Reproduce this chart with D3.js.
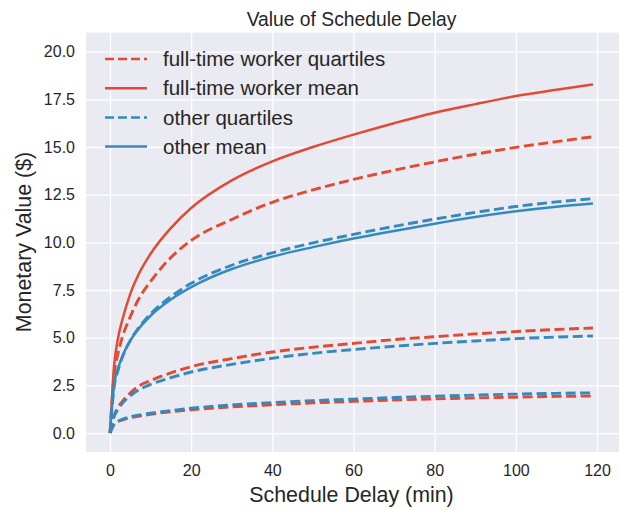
<!DOCTYPE html>
<html>
<head>
<meta charset="utf-8">
<script src="https://cdn.jsdelivr.net/npm/d3@7"></script>
<style>
  body { margin: 0; background: #fff; }
  svg text { font-family: "Liberation Sans", Arial, sans-serif; fill: #262626; }
</style>
</head>
<body>
<svg width="619" height="510"></svg>
<script>
// Schedule delay in minutes (x values shared by every curve)
const delays = [0, 1, 2, 3, 5, 7, 10, 15, 20, 30, 40, 50, 60, 70, 80, 90, 100, 110, 119];

// full-time workers
const ftMean = [0, 3.5, 5.0, 5.9, 7.3, 8.3, 9.4, 10.75, 11.8, 13.25, 14.25, 15.0, 15.65, 16.25, 16.8, 17.25, 17.67, 18.0, 18.28];
const ftQ1 = [0, 0.45, 0.6, 0.68, 0.8, 0.88, 0.98, 1.12, 1.22, 1.37, 1.48, 1.58, 1.66, 1.73, 1.79, 1.84, 1.88, 1.92, 1.94];
const ftQ2 = [0, 0.9, 1.35, 1.65, 2.1, 2.45, 2.75, 3.15, 3.48, 3.9, 4.25, 4.5, 4.7, 4.9, 5.05, 5.2, 5.32, 5.43, 5.51];
const ftQ3 = [0, 3.0, 4.2, 5.0, 6.1, 7.0, 7.95, 9.2, 10.1, 11.2, 12.1, 12.75, 13.3, 13.78, 14.22, 14.62, 14.98, 15.28, 15.54];

// other workers
const oMean = [0, 2.5, 3.4, 4.0, 4.85, 5.45, 6.15, 7.0, 7.65, 8.6, 9.25, 9.75, 10.2, 10.6, 10.98, 11.33, 11.63, 11.87, 12.04];
const oQ1 = [0, 0.45, 0.62, 0.72, 0.85, 0.94, 1.04, 1.18, 1.3, 1.47, 1.6, 1.7, 1.78, 1.86, 1.93, 1.99, 2.04, 2.08, 2.11];
const oQ2 = [0, 0.85, 1.25, 1.55, 1.95, 2.25, 2.55, 2.9, 3.2, 3.6, 3.92, 4.18, 4.38, 4.55, 4.7, 4.83, 4.95, 5.03, 5.09];
const oQ3 = [0, 2.4, 3.3, 3.95, 4.85, 5.5, 6.25, 7.15, 7.85, 8.8, 9.45, 9.97, 10.42, 10.84, 11.22, 11.57, 11.88, 12.12, 12.29];

// tick values
const xTicks = [0, 20, 40, 60, 80, 100, 120];
const yTicks = [0, 2.5, 5, 7.5, 10, 12.5, 15, 17.5, 20];

const red = "#E24A33";
const blue = "#348ABD";

const svg = d3.select("svg");

// plot box
const plotLeft = 86, plotRight = 619, plotTop = 32.6, plotBottom = 452.1;

const xScale = d3.scaleLinear()
  .domain([-5.95, 124.95])
  .range([110 - 5.95 * 4.0583, 110 + 124.95 * 4.0583]);

const yScale = d3.scaleLinear()
  .domain([-1, 21])
  .range([plotBottom, plotTop]);

// background
svg.append("rect")
  .attr("x", plotLeft)
  .attr("y", plotTop)
  .attr("width", plotRight - plotLeft)
  .attr("height", plotBottom - plotTop)
  .attr("fill", "#EAEAF2");

// x axis with white grid lines
const xAxis = svg.append("g")
  .attr("transform", `translate(0, ${plotBottom})`)
  .call(d3.axisBottom(xScale).tickValues(xTicks).tickSize(-(plotBottom - plotTop)).tickPadding(10));
xAxis.select(".domain").remove();
xAxis.selectAll("line").attr("stroke", "#fff").attr("stroke-width", 1.3);
xAxis.selectAll("text").attr("font-size", 16).attr("dy", "0.9em");

// y axis with white grid lines
const yAxis = svg.append("g")
  .attr("transform", `translate(${plotLeft}, 0)`)
  .call(d3.axisLeft(yScale).tickValues(yTicks).tickFormat(d3.format(".1f"))
    .tickSize(-(plotRight - plotLeft)).tickPadding(11));
yAxis.select(".domain").remove();
yAxis.selectAll("line").attr("stroke", "#fff").attr("stroke-width", 1.3);
yAxis.selectAll("text").attr("font-size", 16);

// the curves
const series = [
  { values: ftQ1, color: red, dashed: true },
  { values: ftQ2, color: red, dashed: true },
  { values: ftQ3, color: red, dashed: true },
  { values: ftMean, color: red, dashed: false },
  { values: oQ1, color: blue, dashed: true },
  { values: oQ2, color: blue, dashed: true },
  { values: oQ3, color: blue, dashed: true },
  { values: oMean, color: blue, dashed: false }
];

const line = d3.line()
  .x((d, i) => xScale(delays[i]))
  .y(d => yScale(d))
  .curve(d3.curveMonotoneX);

svg.append("g")
  .selectAll("path")
  .data(series)
  .enter()
  .append("path")
  .attr("d", d => line(d.values))
  .attr("fill", "none")
  .attr("stroke", d => d.color)
  .attr("stroke-width", d => d.dashed ? 2.9 : 2.5)
  .attr("stroke-dasharray", d => d.dashed ? "10,4.5" : null);

// legend
const legendItems = [
  { label: "full-time worker quartiles", color: red, dashed: true },
  { label: "full-time worker mean", color: red, dashed: false },
  { label: "other quartiles", color: blue, dashed: true },
  { label: "other mean", color: blue, dashed: false }
];

const legend = svg.append("g")
  .selectAll("g")
  .data(legendItems)
  .enter()
  .append("g")
  .attr("transform", (d, i) => `translate(105, ${59 + i * 29.2})`);

legend.append("line")
  .attr("x1", 0)
  .attr("x2", 42)
  .attr("stroke", d => d.color)
  .attr("stroke-width", 2.5)
  .attr("stroke-dasharray", d => d.dashed ? "9,4" : null);

legend.append("text")
  .attr("x", 58)
  .attr("dy", "0.35em")
  .attr("font-size", 20.5)
  .text(d => d.label);

// title and axis labels
svg.append("text")
  .attr("x", (plotLeft + 617) / 2)
  .attr("y", 26)
  .attr("text-anchor", "middle")
  .attr("font-size", 19.3)
  .text("Value of Schedule Delay");

svg.append("text")
  .attr("x", (plotLeft + 617) / 2)
  .attr("y", 502)
  .attr("text-anchor", "middle")
  .attr("font-size", 21.4)
  .text("Schedule Delay (min)");

svg.append("text")
  .attr("transform", "rotate(-90)")
  .attr("x", -242)
  .attr("y", 31)
  .attr("text-anchor", "middle")
  .attr("font-size", 21.4)
  .text("Monetary Value ($)");
</script>
</body>
</html>
